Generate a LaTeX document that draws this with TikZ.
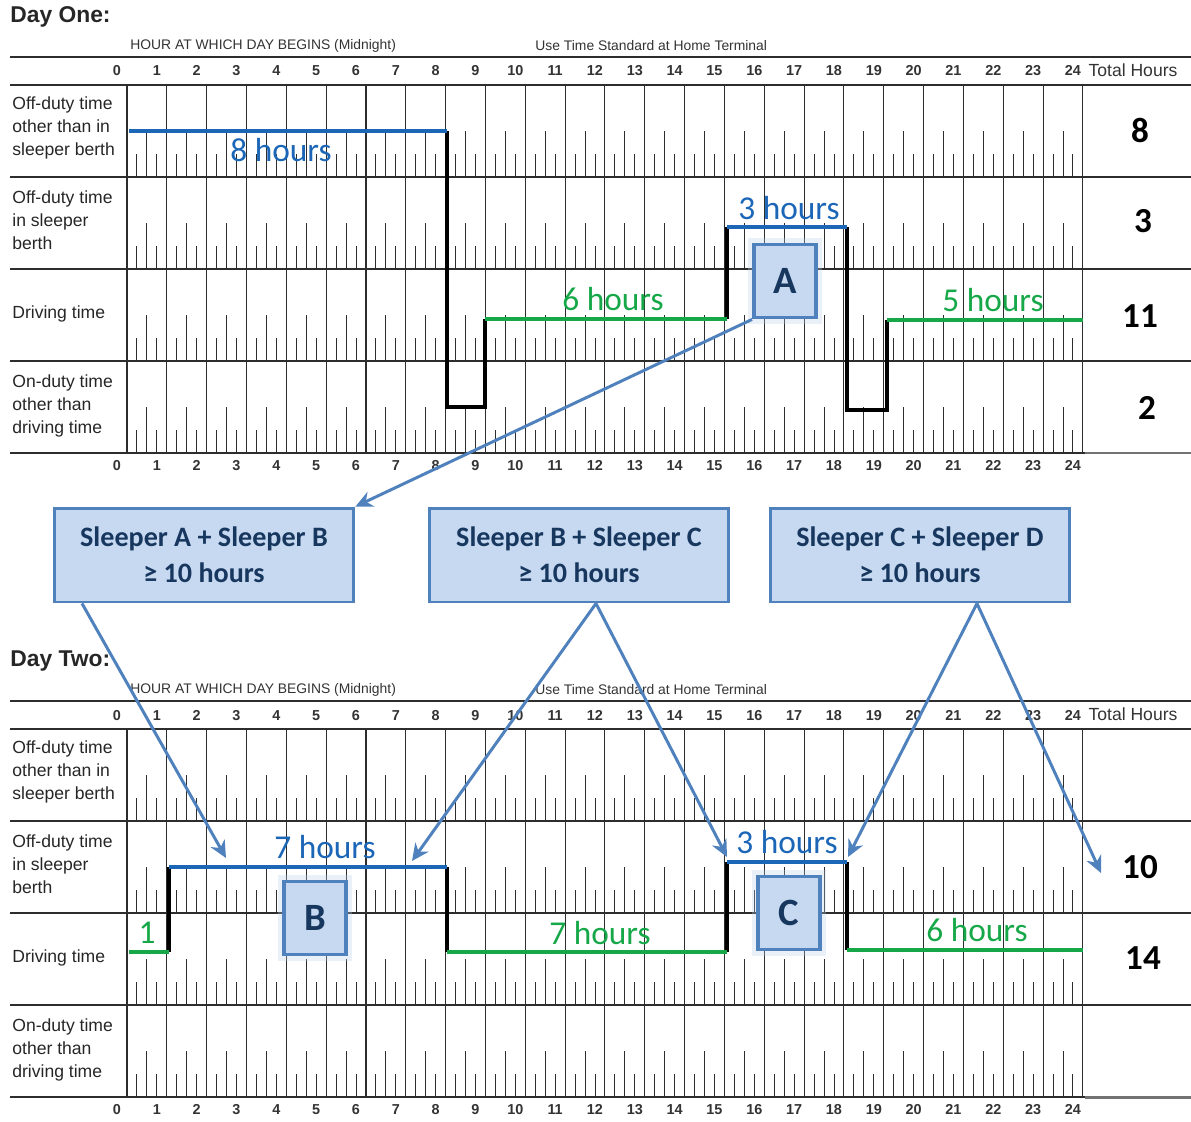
\documentclass[tikz,border=0pt]{standalone}
\usepackage{fontspec}
\setmainfont{Liberation Sans}
\newfontfamily\calfont{Carlito}
\usetikzlibrary{arrows.meta,positioning}
\definecolor{logblue}{RGB}{27,102,182}
\definecolor{loggreen}{RGB}{22,168,72}
\definecolor{boxfill}{RGB}{198,217,241}
\definecolor{boxedge}{RGB}{79,129,189}
\definecolor{boxtext}{RGB}{23,55,94}
\definecolor{gridink}{RGB}{45,45,45}
\tikzset{
  >={Stealth[length=3.4mm,width=3.2mm]},
  sheetrule/.style={draw=gridink,line width=0.9pt},
  hourline/.style={draw=gridink,line width=0.6pt},
  qtick/.style={draw=gridink,line width=0.55pt},
  daytitle/.style={anchor=west,inner sep=0,font=\bfseries\fontsize{13}{14}\selectfont,text=black!85},
  note/.style={anchor=west,inner sep=0,font=\fontsize{7.9}{9}\selectfont,text=black!80},
  hournum/.style={anchor=base,inner sep=0,font=\bfseries\fontsize{8.2}{9}\selectfont,text=black!80},
  colhead/.style={inner sep=0,font=\fontsize{10}{11}\selectfont,text=black!80},
  rowlbl/.style={anchor=west,inner sep=0,align=left,font=\fontsize{10}{13}\selectfont,text=black!85},
  offline/.style={draw=logblue,line width=2.3pt},
  driveline/.style={draw=loggreen,line width=2.3pt},
  switchline/.style={draw=black,line width=2.3pt,line join=miter},
  hrs/.style={inner sep=0,font=\calfont\fontsize{19}{19}\selectfont,text=#1},
  hrs/.default=logblue,
  tothrs/.style={inner sep=0,font=\calfont\bfseries\fontsize{20}{20}\selectfont},
  sleepbox/.style={draw=boxedge,fill=boxfill,line width=2.2pt,minimum width=1.24cm,
    minimum height=1.46cm,inner sep=0,text=boxtext,font=\calfont\bfseries\fontsize{22}{22}\selectfont,
    preaction={draw=boxedge!40,line width=7pt,opacity=.3}},
  rulebox/.style={draw=boxedge,fill=boxfill,line width=1.7pt,minimum width=6.0cm,
    minimum height=1.88cm,align=center,text=boxtext,font=\calfont\bfseries\fontsize{16}{20.5}\selectfont},
  pointer/.style={->,draw=boxedge,line width=1.7pt},
  % one daily log grid
  pics/logsheet/.style={code={
    \node[daytitle] (-title) at (10,17) {#1};
    \node[note] (-hour) at (130,46) {HOUR AT WHICH DAY BEGINS (Midnight)};
    \node[note] (-std) at (535,46) {Use Time Standard at Home Terminal};
    \node[colhead] (-total) at (1133,70) {Total Hours};
    \draw[sheetrule] (10,57) -- (1191,57);
    \foreach \y in {85,177,269,361,453} \draw[sheetrule] (10,\y) -- (1191,\y);
    \draw[line width=1.7pt,black!55] (1085,453) -- (1191,453);
    \foreach \h in {0,...,24} {
      \draw[hourline] ({127+39.83*\h},85) -- ({127+39.83*\h},453);
      \node[hournum] (-top\h) at ({117+39.83*\h},76) {\h};
      \node[hournum] (-bot\h) at ({117+39.83*\h},470) {\h};
    }
    \foreach \y in {177,269,361,453}
      \foreach \h in {0,...,23}
        \draw[qtick] ({127+39.83*(\h+.25)},\y) -- ++(0,-23)
          ({127+39.83*(\h+.5)},\y) -- ++(0,-46)
          ({127+39.83*(\h+.75)},\y) -- ++(0,-23);
    \foreach \y/\t [count=\i] in {128/{Off-duty time\\other than in\\sleeper berth},
        220/{Off-duty time\\in sleeper\\berth},314/{Driving time},
        406/{On-duty time\\other than\\driving time}}
      \node[rowlbl] (-row\i) at (12,\y) {\t};
  }},
}
\begin{document}
\begin{tikzpicture}[x=0.02cm,y=-0.02cm]
  \useasboundingbox (0,0) rectangle (1191,1122);
  \pic (one) at (0,0) {logsheet={Day One:}};
  \pic (two) at (0,644) {logsheet={Day Two:}};

  % day one
  \draw[switchline] (447,131) -- (447,407) -- (485,407) -- (485,319)
    (727,319) -- (727,227) (847,227) -- (847,410) -- (887,410) -- (887,320);
  \draw[offline] (129,131) -- (447,131) (727,227) -- (847,227);
  \draw[driveline] (485,319) -- (727,319) (887,320) -- (1083,320);
  \node[hrs] (h8) at (281,150) {8 hours};
  \node[hrs] (h3a) at (789,208) {3 hours};
  \node[hrs=loggreen] (h6a) at (613,299) {6 hours};
  \node[hrs=loggreen] (h5) at (993,300) {5 hours};
  \foreach \x/\y/\n [count=\i] in {1140/130/8,1143/221/3,1140/316/11,1147/408/2}
    \node[tothrs] (t1\i) at (\x,\y) {\n};
  \node[sleepbox] (A) at (785,281) {A};

  % day two
  \draw[switchline] (169,952) -- (169,867) (447,867) -- (447,952)
    (727,952) -- (727,862) (847,862) -- (847,950);
  \draw[offline] (169,867) -- (447,867) (727,862) -- (847,862);
  \draw[driveline] (129,952) -- (169,952) (447,952) -- (727,952) (847,950) -- (1083,950);
  \node[hrs=loggreen] (h1) at (147,933) {1};
  \node[hrs] (h7a) at (325,847) {7 hours};
  \node[hrs=loggreen] (h7b) at (600,933) {7 hours};
  \node[hrs] (h3b) at (787,842) {3 hours};
  \node[hrs=loggreen] (h6b) at (977,930) {6 hours};
  \node[tothrs] (t21) at (1140,867) {10};
  \node[tothrs] (t22) at (1143,958) {14};
  \node[sleepbox] (B) at (315,918) {B};
  \node[sleepbox] (C) at (789,913) {C};

  % sleeper pairs
  \node[rulebox] (ab) at (204,555) {Sleeper A + Sleeper B\\≥ 10 hours};
  \node[rulebox] (bc) at (579,555) {Sleeper B + Sleeper C\\≥ 10 hours};
  \node[rulebox] (cd) at (920,555) {Sleeper C + Sleeper D\\≥ 10 hours};

  \coordinate (b left) at (226,858);
  \coordinate (b right) at (412,861);
  \coordinate (c left) at (727,857);
  \coordinate (c right) at (848,857);
  \coordinate (day end) at (1101,873);
  \draw[pointer] (A.south west) -- (ab.north east);
  \draw[pointer] ([xshift=-2.44cm]ab.south) -- (b left);
  \draw[pointer] ([xshift=0.34cm]bc.south) -- (b right);
  \draw[pointer] ([xshift=0.34cm]bc.south) -- (c left);
  \draw[pointer] ([xshift=1.14cm]cd.south) -- (c right);
  \draw[pointer] ([xshift=1.14cm]cd.south) -- (day end);
\end{tikzpicture}
\end{document}
